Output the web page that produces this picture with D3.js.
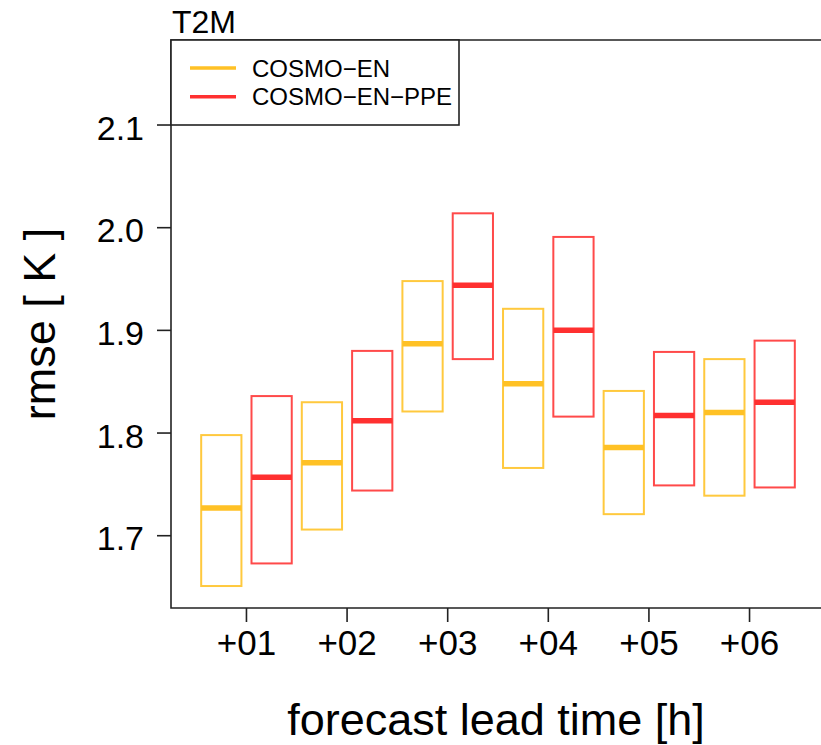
<!DOCTYPE html>
<html>
<head>
<meta charset="utf-8">
<script src="https://cdn.jsdelivr.net/npm/d3@7"></script>
<style>
  html, body { margin: 0; padding: 0; background: #fff; }
  svg { display: block; font-family: "Liberation Sans", Arial, Helvetica, sans-serif; }
</style>
</head>
<body>
<script>
// ---- data ----
const leadTimes = [1, 2, 3, 4, 5, 6];
const tickLabels = ["+01", "+02", "+03", "+04", "+05", "+06"];
const yTicks = [1.7, 1.8, 1.9, 2.0, 2.1];

const enMedian = [1.727, 1.771, 1.887, 1.848, 1.786, 1.820];
const enLow    = [1.651, 1.706, 1.821, 1.766, 1.721, 1.739];
const enHigh   = [1.798, 1.830, 1.948, 1.921, 1.841, 1.872];

const ppeMedian = [1.757, 1.812, 1.944, 1.900, 1.817, 1.830];
const ppeLow    = [1.673, 1.744, 1.872, 1.816, 1.749, 1.747];
const ppeHigh   = [1.836, 1.880, 2.014, 1.991, 1.879, 1.890];

const seriesNames = ["COSMO\u2212EN", "COSMO\u2212EN\u2212PPE"];
const seriesColors = ["#FFC125", "#FF3030"];
const seriesBorder = ["#FFC93E", "#FF4A4A"];

const W = 821, H = 745;
const svg = d3.select("body").append("svg").attr("width", W).attr("height", H);

const plot = { left: 171, right: 825, top: 40, bottom: 608 };
const x = d3.scaleLinear().domain([0.25, 6.75]).range([plot.left, plot.right]);
const y = d3.scaleLinear().domain([1.6296, 2.1828]).range([plot.bottom, plot.top]);

const boxW = 0.4, offset = 0.25;

const series = [
  { name: seriesNames[0], color: seriesColors[0], border: seriesBorder[0], off: -offset, med: enMedian, lo: enLow, hi: enHigh },
  { name: seriesNames[1], color: seriesColors[1], border: seriesBorder[1], off: offset, med: ppeMedian, lo: ppeLow, hi: ppeHigh }
];

// boxes
series.forEach(s => {
  const g = svg.append("g");
  leadTimes.forEach((t, i) => {
    const x0 = x(t + s.off - boxW / 2), x1 = x(t + s.off + boxW / 2);
    g.append("rect")
      .attr("x", x0).attr("y", y(s.hi[i]))
      .attr("width", x1 - x0).attr("height", y(s.lo[i]) - y(s.hi[i]))
      .attr("fill", "none").attr("stroke", s.border).attr("stroke-width", 2);
    g.append("line")
      .attr("x1", x0).attr("x2", x1)
      .attr("y1", y(s.med[i])).attr("y2", y(s.med[i]))
      .attr("stroke", s.color).attr("stroke-width", 5.5);
  });
});

// plot frame (left, top, bottom; right side is beyond the canvas)
const frame = svg.append("g").attr("stroke", "#222").attr("stroke-width", 1.6).attr("fill", "none");
frame.append("path").attr("d", `M${plot.right},${plot.top}H${plot.left}V${plot.bottom}H${plot.right}`);

// y axis
const yAxis = svg.append("g");
yTicks.forEach(v => {
  yAxis.append("line").attr("x1", 157).attr("x2", plot.left).attr("y1", y(v)).attr("y2", y(v))
    .attr("stroke", "#222").attr("stroke-width", 1.6);
  yAxis.append("text").attr("x", 144).attr("y", y(v) + 14.5)
    .attr("text-anchor", "end").attr("font-size", 34).attr("fill", "#000")
    .text(v.toFixed(1));
});

// x axis
const xAxis = svg.append("g");
leadTimes.forEach((t, i) => {
  xAxis.append("line").attr("x1", x(t)).attr("x2", x(t)).attr("y1", plot.bottom).attr("y2", plot.bottom + 14)
    .attr("stroke", "#222").attr("stroke-width", 1.6);
  xAxis.append("text").attr("x", x(t)).attr("y", 655)
    .attr("text-anchor", "middle").attr("font-size", 35).attr("fill", "#000")
    .text(tickLabels[i]);
});

// axis titles
svg.append("text").attr("x", 496).attr("y", 735).attr("text-anchor", "middle")
  .attr("font-size", 45).attr("fill", "#000").text("forecast lead time [h]");
svg.append("text").attr("transform", "translate(55,324) rotate(-90)").attr("text-anchor", "middle")
  .attr("font-size", 45).attr("fill", "#000").text("rmse [ K ]");

// title
svg.append("text").attr("x", 172).attr("y", 33).attr("font-size", 32).attr("fill", "#000").text("T2M");

// legend
const lg = svg.append("g");
lg.append("rect").attr("x", 171).attr("y", 40).attr("width", 288).attr("height", 85)
  .attr("fill", "#fff").attr("stroke", "#222").attr("stroke-width", 1.6);
series.forEach((s, i) => {
  const ly = 68 + i * 28.7;
  lg.append("line").attr("x1", 190).attr("x2", 236).attr("y1", ly).attr("y2", ly)
    .attr("stroke", s.color).attr("stroke-width", 3.5);
  lg.append("text").attr("x", 252).attr("y", ly + 8.5).attr("font-size", 24).attr("fill", "#000").text(s.name);
});
</script>
</body>
</html>
